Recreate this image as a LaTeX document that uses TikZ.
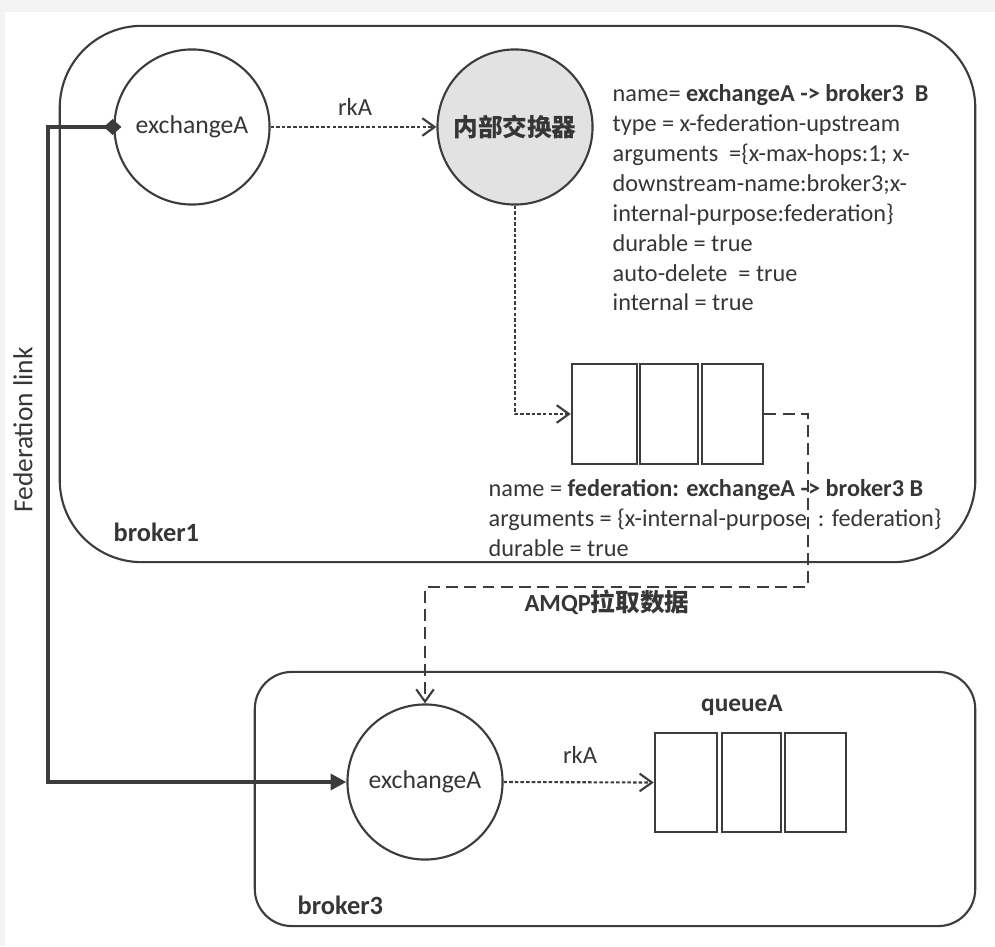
\documentclass[tikz,border=0pt]{standalone}
\usepackage{fontspec}
\setmainfont{Carlito}
\newfontfamily\cjk{Noto Sans CJK SC}
\usetikzlibrary{arrows.meta}
\definecolor{ink}{HTML}{363636}
\definecolor{linec}{HTML}{3C3C3C}
\definecolor{graybg}{HTML}{F3F3F3}
\definecolor{innerfill}{HTML}{E2E2E2}
\begin{document}
\begin{tikzpicture}[x=0.01cm,y=-0.01cm,
  lbl/.style={font=\fontsize{7}{8.5}\selectfont, text=ink, inner sep=0pt},
  info/.style={font=\fontsize{6.9}{8.5}\selectfont, text=ink, inner sep=0pt, align=left, anchor=north west},
  exch/.style={circle, draw=linec, line width=0.6pt, minimum size=1.55cm, inner sep=0pt, font=\fontsize{7.3}{8.5}\selectfont, text=ink},
  cell/.style={draw=linec, line width=0.7pt, minimum height=1.0cm, inner sep=0pt},
  rk/.style={draw=linec, line width=0.6pt, dash pattern=on 1pt off 0.6pt, -{Straight Barb[length=3.5pt,width=5pt]}},
  pull/.style={draw=linec, line width=0.6pt, dash pattern=on 3.4pt off 1.8pt, -{Straight Barb[length=3.5pt,width=5pt]}},
  fed/.style={draw=linec, line width=1.3pt, {Diamond[length=5pt,width=4.5pt]}-{Triangle[length=4.5pt,width=4.5pt]}},
  brokerbox/.style={draw=linec, line width=0.6pt, inner sep=0pt}
]
\useasboundingbox (0,0) rectangle (995,946);
\fill[white] (0,0) rectangle (995,946);
\fill[graybg] (0,0) rectangle (995,12);
\fill[graybg] (0,0) rectangle (5,946);

% broker boxes
\node[brokerbox, rounded corners=0.82cm, minimum width=9.15cm, minimum height=5.36cm] (broker1) at (517.5,294) {};
\node[brokerbox, rounded corners=0.37cm, minimum width=7.2cm, minimum height=2.54cm] (broker3) at (615,799) {};

% exchanges
\node[exch] (exA) at (192,127) {exchangeA};
\node[exch, fill=innerfill, font=\fontsize{7}{8.5}\selectfont] (inner) at (515,127) {\cjk\bfseries 内部交换器};
\node[exch] (exB) at (425,782) {exchangeA};

% queues
\node[cell, minimum width=0.65cm] (q1) at (604.5,414) {};
\node[cell, minimum width=0.58cm] (q2) at (669,414) {};
\node[cell, minimum width=0.61cm] (q3) at (732.5,414) {};
\node[cell, minimum width=0.62cm, minimum height=0.99cm] (c1) at (686,782.5) {};
\node[cell, minimum width=0.59cm, minimum height=0.99cm] (c2) at (751.5,782.5) {};
\node[cell, minimum width=0.61cm, minimum height=0.99cm] (c3) at (815.5,782.5) {};

% texts
\node[info] (exInfo) at (612,84) {name= \textbf{exchangeA -> broker3\ \ B}\\
type = x-federation-upstream\\
arguments\ \ =\{x-max-hops:1; x-\\
downstream-name:broker3;x-\\
internal-purpose:federation\}\\
durable = true\\
auto-delete\ \ = true\\
internal = true};
\node[info] (qInfo) at (488,479) {name = \textbf{federation: exchangeA -> broker3 B}\\
arguments = \{x-internal-purpose\ \ : federation\}\\
durable = true};

\node[lbl] (rkTop) at (355,107) {rkA};
\node[lbl] (rkBot) at (580,755) {rkA};
\node[lbl, font=\fontsize{7.2}{8.5}\selectfont\bfseries] (qA) at (742,705) {queueA};
\node[lbl, font=\fontsize{7.5}{8.5}\selectfont\bfseries, anchor=west] (b1) at (113,532) {broker1};
\node[lbl, font=\fontsize{7.5}{8.5}\selectfont\bfseries, anchor=west] (b3) at (297,905) {broker3};
\node[lbl, font=\fontsize{7.8}{8.5}\selectfont, rotate=90] (fedl) at (23,430) {Federation link};
\node[lbl, font=\fontsize{7}{8.5}\selectfont\bfseries] (amqp) at (607,602) {AMQP{\cjk\bfseries 拉取数据}};

% connectors
\coordinate (fedBot) at (48,782);
\coordinate (pullR) at (808,587);
\draw[rk] (exA.east) -- (inner.west);
\draw[rk] (inner.south) |- (q1.west);
\draw[rk] (exB.east) -- (c1.west);
\draw[pull] (q3.east) -| (pullR) -| (exB.north);
\draw[fed] ([xshift=0.08cm]exA.west) -| (fedBot) -- (exB.west);
\end{tikzpicture}
\end{document}
